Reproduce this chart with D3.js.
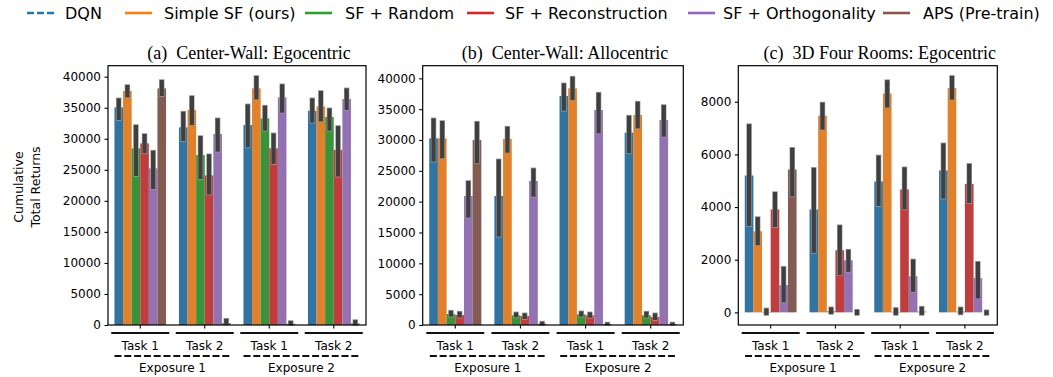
<!DOCTYPE html>
<html>
<head>
<meta charset="utf-8">
<script src="https://cdn.jsdelivr.net/npm/d3@7"></script>
<style>
  body { margin: 0; background: #fff; }
  svg { display: block; }
  text { font-family: "DejaVu Sans", sans-serif; fill: #000; }
</style>
</head>
<body>
<div id="chart"></div>
<script>
// methods / legend
var methods = ["DQN", "Simple SF (ours)", "SF + Random", "SF + Reconstruction", "SF + Orthogonality", "APS (Pre-train)"];
var lineColors = ["#1f77b4", "#ff7f0e", "#2ca02c", "#d62728", "#9467bd", "#8c564b"];
var barColors  = ["#3274a1", "#e1812c", "#3a923a", "#c03d3e", "#9372b2", "#845b53"];

var tasks = ["Task 1", "Task 2", "Task 1", "Task 2"];
var exposures = ["Exposure 1", "Exposure 2"];
var titles = ["(a)  Center-Wall: Egocentric", "(b)  Center-Wall: Allocentric", "(c)  3D Four Rooms: Egocentric"];

// (a) Center-Wall: Egocentric -- one row per task group, one column per method
var egoMean = [
  [35060, 37690, 28460, 29260, 25230, 38120],
  [31840, 34630, 27380, 24100, 30760, 300],
  [32210, 38120, 33290, 28460, 36670, 200],
  [34500, 35200, 33500, 28200, 36400, 250]
];
var egoLo = [
  [33020, 36670, 24000, 27650, 21910, 36890],
  [29640, 32210, 23520, 21000, 27920, 50],
  [28600, 36350, 31300, 25930, 34200, 0],
  [32590, 32800, 31300, 23900, 34630, 0]
];
var egoHi = [
  [36510, 38660, 32210, 30770, 28080, 39460],
  [34360, 36890, 30440, 27500, 33290, 1000],
  [35540, 40110, 35330, 30870, 38770, 640],
  [36510, 37690, 34900, 32050, 38120, 800]
];

// (b) Center-Wall: Allocentric
var alloMean = [
  [30270, 30270, 1780, 1620, 20920, 30000],
  [20920, 30160, 1570, 1460, 23350, 200],
  [37130, 38380, 1730, 1570, 34860, 150],
  [31190, 34050, 1570, 1300, 33240, 150]
];
var alloLo = [
  [26500, 27030, 1350, 1190, 17400, 26210],
  [14320, 27940, 1240, 970, 20810, 0],
  [34750, 36480, 1350, 1190, 31080, 0],
  [27840, 31890, 1190, 810, 30540, 0]
];
var alloHi = [
  [33510, 33080, 2320, 2160, 23350, 32970],
  [26860, 32160, 2050, 1890, 25400, 540],
  [39190, 40270, 2220, 2050, 37670, 400],
  [33940, 36210, 2160, 1890, 35670, 400]
];

// (c) 3D Four Rooms: Egocentric
var roomsMean = [
  [5199, 3079, 20, 3910, 1035, 5430],
  [3910, 7470, 40, 2360, 1980, 0],
  [4970, 8315, 20, 4670, 1375, 30],
  [5390, 8520, 30, 4880, 1300, 0]
];
var roomsLo = [
  [3280, 2550, -100, 3240, 380, 4400],
  [2260, 6940, -60, 1410, 1540, -100],
  [4040, 7780, -100, 3910, 780, -100],
  [4320, 8080, -80, 4150, 530, -100]
];
var roomsHi = [
  [7150, 3620, 150, 4570, 1730, 6250],
  [5490, 7970, 190, 3310, 2380, 100],
  [5960, 8820, 170, 5510, 2010, 215],
  [6420, 8980, 190, 5640, 1920, 80]
];

var width = 1053, height = 377;
var plotTop = 65.7, plotBottom = 325;

var panels = [
  {left: 108,   right: 366,   domain: [0, 41770],   ticks: d3.range(0, 40001, 5000), mean: egoMean,   lo: egoLo,   hi: egoHi},
  {left: 422.7, right: 683.3, domain: [0, 42050],   ticks: d3.range(0, 40001, 5000), mean: alloMean,  lo: alloLo,  hi: alloHi},
  {left: 738.3, right: 997.3, domain: [-480, 9370], ticks: d3.range(0, 8001, 2000),  mean: roomsMean, lo: roomsLo, hi: roomsHi}
];

var svg = d3.select("#chart").append("svg")
    .attr("width", width)
    .attr("height", height);

// legend
var legX = [27, 125, 305, 467, 688, 883];
var legTextX = [65, 164, 345, 505, 723, 923];
var legend = svg.append("g").attr("class", "legend");
methods.forEach(function(m, i) {
    legend.append("line")
        .attr("x1", legX[i]).attr("x2", legX[i] + 27)
        .attr("y1", 13).attr("y2", 13)
        .attr("stroke", lineColors[i])
        .attr("stroke-width", 2.6)
        .attr("stroke-dasharray", i === 0 ? "7,3" : null);
    legend.append("text")
        .attr("x", legTextX[i]).attr("y", 19)
        .style("font-size", "16px")
        .text(m);
});

panels.forEach(function(p, pi) {
    var g = svg.append("g");

    var x = d3.scaleBand().domain(d3.range(tasks.length)).range([p.left, p.right]);
    var bw = x.bandwidth();
    var inner = d3.scaleBand().domain(d3.range(methods.length)).range([0.1 * bw, 0.9 * bw]);
    var y = d3.scaleLinear().domain(p.domain).range([plotBottom, plotTop]);

    // bars
    p.mean.forEach(function(row, gi) {
        g.selectAll(".bar" + gi)
            .data(row)
            .enter()
            .append("rect")
            .attr("x", function(d, i) { return x(gi) + inner(i); })
            .attr("y", function(d) { return y(Math.max(0, d)); })
            .attr("width", inner.bandwidth())
            .attr("height", function(d) { return Math.abs(y(d) - y(0)); })
            .attr("fill", function(d, i) { return barColors[i]; });
    });

    // error bars
    p.lo.forEach(function(row, gi) {
        var pairs = row.map(function(lo, i) { return {i: i, lo: lo, hi: p.hi[gi][i]}; });
        g.selectAll(".halo" + gi)
            .data(pairs)
            .enter()
            .append("line")
            .attr("x1", function(d) { return x(gi) + inner(d.i) + inner.bandwidth() / 2; })
            .attr("x2", function(d) { return x(gi) + inner(d.i) + inner.bandwidth() / 2; })
            .attr("y1", function(d) { return y(d.lo) + 0.8; })
            .attr("y2", function(d) { return y(d.hi) - 0.8; })
            .attr("stroke", "#9a9a9a")
            .attr("stroke-width", 5.4);
        g.selectAll(".err" + gi)
            .data(pairs)
            .enter()
            .append("line")
            .attr("x1", function(d) { return x(gi) + inner(d.i) + inner.bandwidth() / 2; })
            .attr("x2", function(d) { return x(gi) + inner(d.i) + inner.bandwidth() / 2; })
            .attr("y1", function(d) { return y(d.lo); })
            .attr("y2", function(d) { return y(d.hi); })
            .attr("stroke", "#3f3f3f")
            .attr("stroke-width", 4.2);
    });

    // axes
    var yAxis = d3.axisLeft(y).tickValues(p.ticks).tickSize(3.5).tickPadding(3.5).tickFormat(d3.format("d"));
    var ya = g.append("g")
        .attr("transform", "translate(" + p.left + ",0)")
        .call(yAxis);
    ya.select(".domain").remove();
    ya.selectAll("text").style("font-size", "12px").attr("fill", "#000");
    ya.selectAll("line").attr("stroke", "#000").attr("stroke-width", 1.1);

    var xAxis = d3.axisBottom(x).tickSize(3.5).tickSizeOuter(0).tickFormat("");
    var xa = g.append("g")
        .attr("transform", "translate(0," + plotBottom + ")")
        .call(xAxis);
    xa.select(".domain").remove();
    xa.selectAll("line").attr("stroke", "#000").attr("stroke-width", 1.1);

    g.append("rect")
        .attr("x", p.left).attr("y", plotTop)
        .attr("width", p.right - p.left).attr("height", plotBottom - plotTop)
        .attr("fill", "none")
        .attr("stroke", "#000")
        .attr("stroke-width", 1.2);

    // title
    g.append("text")
        .attr("x", (p.left + p.right) / 2 + 12)
        .attr("y", 59)
        .attr("text-anchor", "middle")
        .attr("xml:space", "preserve")
        .style("font-family", "'Liberation Serif', 'Times New Roman', serif")
        .style("font-size", "18px")
        .style("white-space", "pre")
        .text(titles[pi]);

    // task underlines + labels
    tasks.forEach(function(t, ti) {
        var c = x(ti) + bw / 2;
        g.append("line")
            .attr("x1", c - 29).attr("x2", c + 29)
            .attr("y1", 333).attr("y2", 333)
            .attr("stroke", "#111").attr("stroke-width", 2);
        g.append("text")
            .attr("x", c).attr("y", 350)
            .attr("text-anchor", "middle")
            .style("font-size", "12px")
            .text(t);
    });

    // exposure dashed lines + labels
    exposures.forEach(function(e, ei) {
        var c = (x(2 * ei) + x(2 * ei + 1) + bw) / 2;
        g.append("line")
            .attr("x1", c - 58).attr("x2", c + 58)
            .attr("y1", 356).attr("y2", 356)
            .attr("stroke", "#111").attr("stroke-width", 2)
            .attr("stroke-dasharray", "7,2.8");
        g.append("text")
            .attr("x", c).attr("y", 372)
            .attr("text-anchor", "middle")
            .style("font-size", "12px")
            .text(e);
    });
});

// y label
svg.append("text")
    .attr("transform", "translate(23,187) rotate(-90)")
    .attr("text-anchor", "middle")
    .style("font-size", "12.5px")
    .text("Cumulative");
svg.append("text")
    .attr("transform", "translate(40,187) rotate(-90)")
    .attr("text-anchor", "middle")
    .style("font-size", "12.5px")
    .text("Total Returns");
</script>
</body>
</html>
